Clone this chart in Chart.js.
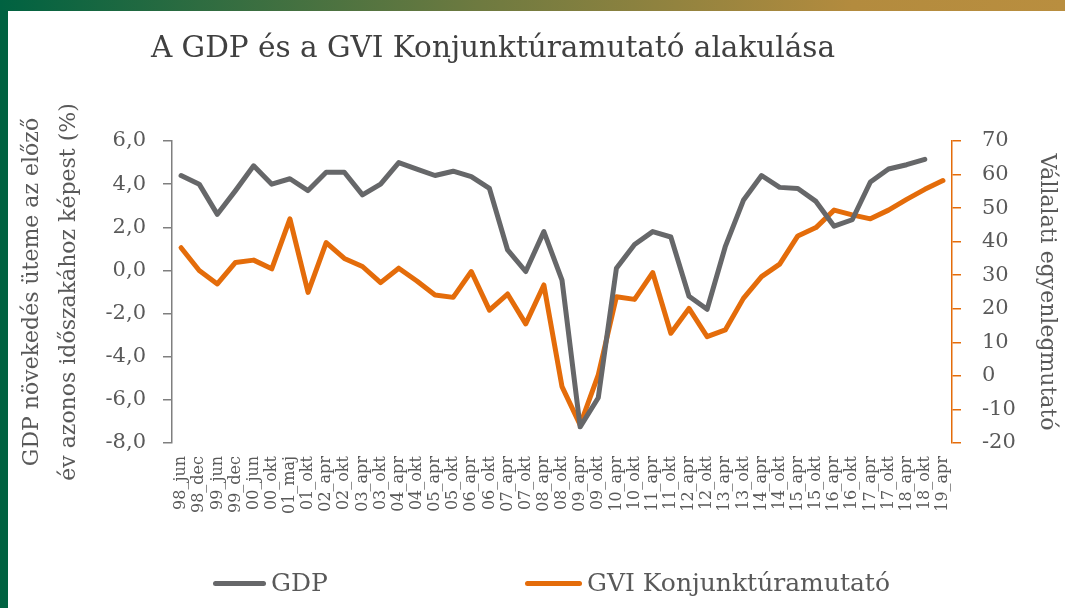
<!DOCTYPE html>
<html>
<head>
<meta charset="utf-8">
<script src="https://cdn.jsdelivr.net/npm/chart.js@4"></script>
<style>
    html, body { margin: 0; padding: 0; background: #fff; }
    #wrap { position: relative; width: 1065px; height: 608px; overflow: hidden; font-family: "DejaVu Serif", serif; }
    #topbar { position: absolute; left: 0; top: 0; width: 1065px; height: 11px; background: linear-gradient(to right, #006241, #6e7a40 45%, #b38b3e 80%, #b98e3f); }
    #sidebar { position: absolute; left: 0; top: 11px; width: 8px; height: 597px; background: #006241; }
    #title { position: absolute; left: 93px; width: 800px; top: 30px; text-align: center; font-size: 29.5px; color: #404040; }
    #chart { position: absolute; left: 0; top: 0; }
    #legend { position: absolute; left: 0; top: 568px; width: 1065px; height: 30px; }
    .item { position: absolute; top: 0; height: 30px; font-size: 25px; color: #595959; line-height: 30px; }
    .swatch { position: absolute; top: 13px; height: 5px; border-radius: 3px; }
</style>
</head>
<body>
<div id="wrap">
    <div id="topbar"></div>
    <div id="sidebar"></div>
    <canvas id="chart" width="1065" height="608"></canvas>
    <div id="title">A GDP és a GVI Konjunktúramutató alakulása</div>
    <div id="legend"></div>
</div>
<script>
    // Periods (year_month)
    const periods = [
        '98_jun', '98_dec', '99_jun', '99_dec', '00_jun', '00_okt', '01_maj', '01_okt',
        '02_apr', '02_okt', '03_apr', '03_okt', '04_apr', '04_okt', '05_apr', '05_okt',
        '06_apr', '06_okt', '07_apr', '07_okt', '08_apr', '08_okt', '09_apr', '09_okt',
        '10_apr', '10_okt', '11_apr', '11_okt', '12_apr', '12_okt', '13_apr', '13_okt',
        '14_apr', '14_okt', '15_apr', '15_okt', '16_apr', '16_okt', '17_apr', '17_okt',
        '18_apr', '18_okt', '19_apr'
    ];

    // GDP growth, % (left axis) - no value yet for 19_apr
    const gdpValues = [
        4.4, 4.0, 2.6, 3.7, 4.85, 4.0, 4.25, 3.7,
        4.55, 4.55, 3.5, 4.0, 5.0, 4.7, 4.4, 4.6,
        4.35, 3.8, 0.95, -0.05, 1.8, -0.45, -7.25, -5.9,
        0.1, 1.2, 1.8, 1.55, -1.2, -1.8, 1.1, 3.25,
        4.4, 3.85, 3.8, 3.2, 2.05, 2.35, 4.1, 4.7,
        4.9, 5.15
    ];

    // GVI business climate index (right axis)
    const gviValues = [
        38.2, 31.4, 27.4, 33.8, 34.5, 31.9, 46.8, 24.9,
        39.7, 35.0, 32.6, 27.8, 32.1, 28.3, 24.1, 23.4,
        31.1, 19.6, 24.4, 15.5, 27.1, -3.2, -14.6, 0.3,
        23.6, 22.8, 30.8, 12.7, 20.1, 11.7, 13.7, 23.1,
        29.6, 33.3, 41.7, 44.2, 49.4, 48.0, 46.8, 49.4,
        52.6, 55.6, 58.2
    ];

    const gdpTicks = { min: -8, max: 6, step: 2 };
    const gviTicks = { min: -20, max: 70, step: 10 };

    const gray = '#666769';
    const orange = '#e46c0a';
    const textGray = '#595959';
    const serif = '"DejaVu Serif", serif';

    const chart = new Chart(document.getElementById('chart'), {
        type: 'line',
        data: {
            labels: periods,
            datasets: [
                {
                    label: 'GDP',
                    data: gdpValues,
                    yAxisID: 'y',
                    borderColor: gray,
                    backgroundColor: gray,
                    borderWidth: 5,
                    pointRadius: 0,
                    borderCapStyle: 'round',
                    borderJoinStyle: 'round'
                },
                {
                    label: 'GVI Konjunktúramutató',
                    data: gviValues,
                    yAxisID: 'y1',
                    borderColor: orange,
                    backgroundColor: orange,
                    borderWidth: 5,
                    pointRadius: 0,
                    borderCapStyle: 'round',
                    borderJoinStyle: 'round'
                }
            ]
        },
        options: {
            responsive: false,
            animation: false,
            devicePixelRatio: 1,
            layout: { padding: { top: 141, bottom: 65, left: 0, right: 0 } },
            plugins: {
                legend: { display: false },
                title: { display: false },
                tooltip: { enabled: false }
            },
            scales: {
                x: {
                    offset: true,
                    grid: { display: false, drawTicks: false, tickLength: 0 },
                    border: { display: false },
                    ticks: {
                        autoSkip: false,
                        minRotation: 90,
                        maxRotation: 90,
                        padding: 13,
                        color: textGray,
                        font: { family: serif, size: 16 }
                    },
                    afterFit: scale => { scale.height = 100; }
                },
                y: {
                    position: 'left',
                    min: gdpTicks.min,
                    max: gdpTicks.max,
                    grid: { drawOnChartArea: false, drawTicks: true, tickLength: 9, color: '#7f7f7f', lineWidth: 1.5 },
                    border: { display: true, color: '#7f7f7f', width: 1.5 },
                    ticks: {
                        stepSize: gdpTicks.step,
                        padding: 17,
                        color: textGray,
                        font: { family: serif, size: 21 },
                        callback: v => v.toFixed(1).replace('.', ',')
                    },
                    title: {
                        display: true,
                        text: ['GDP növekedés üteme az előző', 'év azonos időszakához képest (%)'],
                        color: textGray,
                        font: { family: serif, size: 22, lineHeight: 1.68 },
                        padding: { top: 14, bottom: 0 }
                    },
                    afterFit: scale => { scale.width = 172; }
                },
                y1: {
                    position: 'right',
                    min: gviTicks.min,
                    max: gviTicks.max,
                    grid: { drawOnChartArea: false, drawTicks: true, tickLength: 9, color: orange, lineWidth: 1.5 },
                    border: { display: true, color: orange, width: 1.5 },
                    ticks: {
                        stepSize: gviTicks.step,
                        padding: 21,
                        color: textGray,
                        font: { family: serif, size: 21 }
                    },
                    title: {
                        display: true,
                        text: 'Vállalati egyenlegmutató',
                        color: textGray,
                        font: { family: serif, size: 22, lineHeight: 1.2 },
                        padding: { top: 5, bottom: 0 }
                    },
                    afterFit: scale => { scale.width = 113; }
                }
            }
        }
    });

    // Legend built from the datasets
    const legendPos = [{ line: 213, text: 271 }, { line: 525, text: 587 }];
    const legend = document.getElementById('legend');
    chart.data.datasets.forEach((ds, i) => {
        const sw = document.createElement('div');
        sw.className = 'swatch';
        sw.style.left = legendPos[i].line + 'px';
        sw.style.width = (legendPos[i].text - legendPos[i].line - 5) + 'px';
        sw.style.background = ds.borderColor;
        legend.appendChild(sw);

        const label = document.createElement('div');
        label.className = 'item';
        label.style.left = legendPos[i].text + 'px';
        label.textContent = ds.label;
        legend.appendChild(label);
    });
</script>
</body>
</html>
